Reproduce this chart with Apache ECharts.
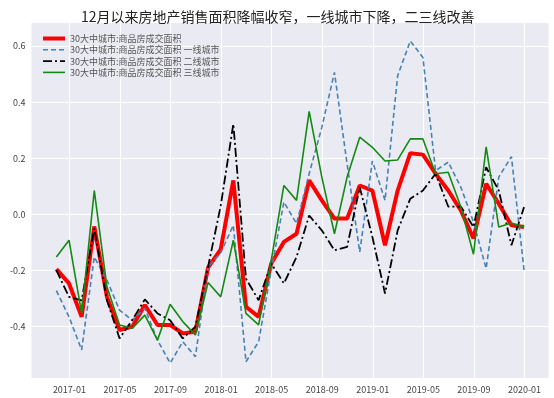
<!DOCTYPE html>
<html>
<head>
<meta charset="utf-8">
<script src="https://cdn.jsdelivr.net/npm/echarts@6/dist/echarts.min.js"></script>
<style>html,body{margin:0;padding:0;background:#fff;}#c{width:554px;height:398px;}</style>
</head>
<body>
<div id="c"></div>
<script>
// Monthly data (month-end), 2016-11 .. 2019-12
const months = ['2016-11','2016-12','2017-01','2017-02','2017-03','2017-04','2017-05','2017-06','2017-07','2017-08','2017-09','2017-10','2017-11','2017-12',
  '2018-01','2018-02','2018-03','2018-04','2018-05','2018-06','2018-07','2018-08','2018-09','2018-10','2018-11','2018-12',
  '2019-01','2019-02','2019-03','2019-04','2019-05','2019-06','2019-07','2019-08','2019-09','2019-10','2019-11','2019-12'];
const total = [-0.195,-0.246,-0.365,-0.043,-0.294,-0.412,-0.400,-0.323,-0.394,-0.394,-0.424,-0.418,-0.190,-0.125,
  0.121,-0.329,-0.365,-0.175,-0.098,-0.069,0.121,0.050,-0.015,-0.015,0.103,0.085,
  -0.110,0.085,0.218,0.213,0.145,0.085,0.014,-0.086,0.109,0.038,-0.039,-0.045];
const tier1 = [-0.272,-0.365,-0.483,-0.152,-0.234,-0.341,-0.377,-0.335,-0.448,-0.530,-0.454,-0.507,-0.187,-0.137,
  -0.039,-0.525,-0.454,-0.199,0.044,-0.033,0.145,0.310,0.506,0.180,-0.134,0.190,
  0.050,0.494,0.618,0.559,0.156,0.186,0.097,-0.027,-0.193,0.133,0.206,-0.199];
const tier2 = [-0.199,-0.294,-0.306,-0.050,-0.306,-0.442,-0.377,-0.303,-0.353,-0.377,-0.442,-0.400,-0.187,0.030,
  0.322,-0.229,-0.306,-0.175,-0.246,-0.152,-0.004,-0.057,-0.128,-0.116,0.097,-0.080,
  -0.282,-0.057,0.056,0.085,0.145,0.028,0.028,-0.045,0.168,0.085,-0.110,0.026];
const tier3 = [-0.152,-0.092,-0.353,0.085,-0.258,-0.394,-0.406,-0.359,-0.448,-0.320,-0.382,-0.430,-0.243,-0.294,
  -0.092,-0.353,-0.394,-0.163,0.103,0.050,0.367,0.133,-0.069,0.133,0.275,0.239,
  0.190,0.194,0.269,0.269,0.145,0.150,0.026,-0.142,0.241,-0.045,-0.031,-0.045];
const seriesNames = ['30大中城市:商品房成交面积','30大中城市:商品房成交面积 一线城市','30大中城市:商品房成交面积 二线城市','30大中城市:商品房成交面积 三线城市'];
const xTicks = [0,4,8,12,16,20,24,28,32,36]; // months since 2017-01
const yTicks = [-0.4,-0.2,0,0.2,0.4,0.6];
const titleText = '12月以来房地产销售面积降幅收窄，一线城市下降，二三线改善';

function monthPos(label){
  const [y,m] = label.split('-').map(Number);
  return (y-2017)*12 + (m-1) + 1 - 1/30; // month-end position
}
function pairs(vals){ return months.map((m,i)=>[monthPos(m), vals[i]]); }
function tickLabel(v){
  const idx = Math.round(v);
  const y = 2017 + Math.floor(idx/12);
  const m = ((idx%12)+12)%12 + 1;
  return y + '-' + (m<10?'0':'') + m;
}

const font = '"Noto Sans CJK SC", "DejaVu Sans", sans-serif';
const chart = echarts.init(document.getElementById('c'), null, {renderer:'canvas'});
chart.setOption({
  backgroundColor:'#ffffff',
  animation:false,
  textStyle:{fontFamily:font},
  title:{text:titleText,left:76,top:5,textStyle:{fontSize:14,fontWeight:'normal',color:'#222',fontFamily:font}},
  legend:{orient:'vertical',left:36,top:29,itemWidth:22,itemHeight:10,itemGap:2.3,
    itemStyle:{opacity:0},
    textStyle:{fontSize:9,color:'#555',fontFamily:font},
    data:[
      {name:seriesNames[0],lineStyle:{width:4}},
      {name:seriesNames[1],lineStyle:{width:1.6}},
      {name:seriesNames[2],lineStyle:{width:1.8}},
      {name:seriesNames[3],lineStyle:{width:1.6}}
    ]},
  grid:{left:31.5,right:5.5,top:23,bottom:20,containLabel:false,show:true,backgroundColor:'#EAEAF2',borderWidth:0},
  xAxis:{type:'value',min:-3.0,max:37.9,
    axisLine:{show:false},
    axisTick:{show:false,customValues:xTicks},
    axisLabel:{customValues:xTicks,formatter:tickLabel,fontSize:9,color:'#444',margin:7,fontFamily:font},
    splitLine:{show:true,lineStyle:{color:'#ffffff',width:1}}},
  yAxis:{type:'value',min:-0.583,max:0.682,
    axisLine:{show:false},
    axisTick:{show:false,customValues:yTicks},
    axisLabel:{customValues:yTicks,formatter:v=>v.toFixed(1),fontSize:9,color:'#444',margin:6,fontFamily:font},
    splitLine:{show:true,lineStyle:{color:'#ffffff',width:1}}},
  series:[
    {name:seriesNames[0],type:'line',symbol:'none',data:pairs(total),lineStyle:{color:'#ff0000',width:4},itemStyle:{color:'#ff0000'},z:2},
    {name:seriesNames[1],type:'line',symbol:'none',data:pairs(tier1),lineStyle:{color:'#4682B4',width:1.6,type:[5,3]},itemStyle:{color:'#4682B4'},z:3},
    {name:seriesNames[2],type:'line',symbol:'none',data:pairs(tier2),lineStyle:{color:'#000000',width:1.8,type:[9,3,2,3]},itemStyle:{color:'#000000'},z:4},
    {name:seriesNames[3],type:'line',symbol:'none',data:pairs(tier3),lineStyle:{color:'#138a13',width:1.6},itemStyle:{color:'#138a13'},z:5}
  ]
});
</script>
</body>
</html>
